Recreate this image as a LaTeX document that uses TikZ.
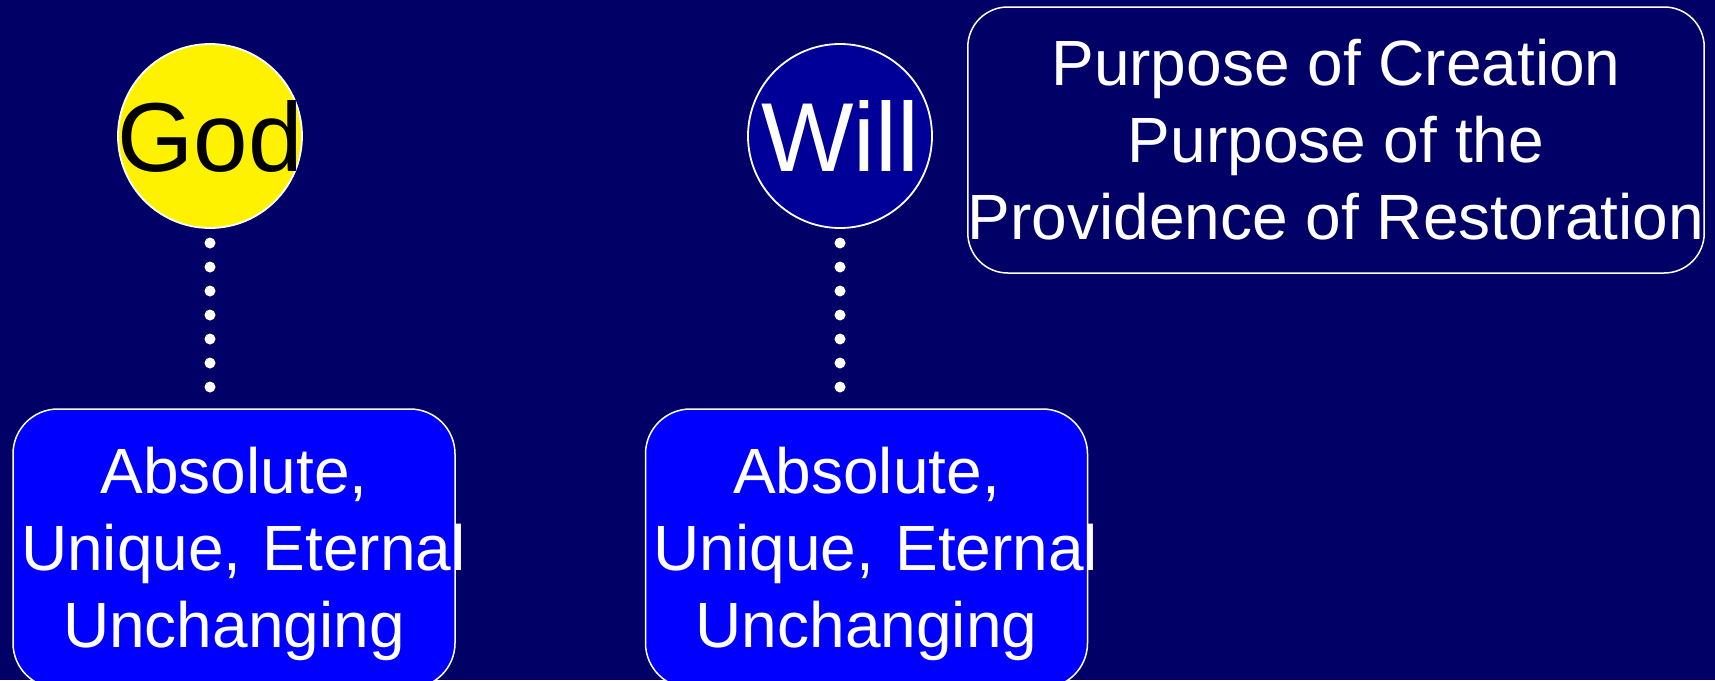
\documentclass[tikz,border=0pt]{standalone}
\usepackage{fontspec}
\setmainfont{Liberation Sans}
\definecolor{bg}{HTML}{000066}
\definecolor{willblue}{HTML}{000099}
\definecolor{boxblue}{HTML}{0000FF}
\begin{document}
\begin{tikzpicture}[x=1pt,y=-1pt,
  every node/.style={outer sep=0pt},
  circ/.style={circle, minimum size=184pt, inner sep=0pt, draw=white, line width=1.8pt,
    font=\fontsize{98}{100}\selectfont},
  pbox/.style={rectangle, rounded corners=40pt, minimum width=736pt, minimum height=266pt,
    inner sep=0pt, draw=white, line width=1.5pt, text=white, align=center,
    font=\fontsize{64}{77}\selectfont},
  lbox/.style={rectangle, rounded corners=45pt, minimum width=442pt, minimum height=279pt,
    inner sep=8pt, text width=426pt, draw=white, line width=1.5pt, fill=boxblue, text=white,
    align=center, font=\fontsize{64}{77}\selectfont},
  dotline/.style={white, line width=11pt, line cap=round, dash pattern=on 0pt off 24pt}]
\useasboundingbox (0,0) rectangle (1715,680);
\clip (0,0) rectangle (1715,680);
\fill[bg] (0,0) rectangle (1715,680);

\node[circ, fill=yellow, text=black] (god) at (210,136) {\makebox[0pt]{God}};
\node[circ, fill=willblue, text=white] (will) at (840,136) {\makebox[0pt]{Will}};
\node[pbox] (purpose) at (1336,140) {Purpose of Creation\\Purpose of the\\Providence of Restoration};
\node[lbox] (box1) at (234,548.5) {\rule{0pt}{57pt}Absolute,\\\mbox{Unique, Eternal}\\Unchanging};
\node[lbox] (box2) at (866.5,548.5) {\rule{0pt}{57pt}Absolute,\\\mbox{Unique, Eternal}\\Unchanging};

\draw[dotline] ([yshift=-15pt]god.south) -- ([yshift=21.5pt]god.south |- box1.north);
\draw[dotline] ([yshift=-15pt]will.south) -- ([yshift=21.5pt]will.south |- box2.north);
\end{tikzpicture}
\end{document}
